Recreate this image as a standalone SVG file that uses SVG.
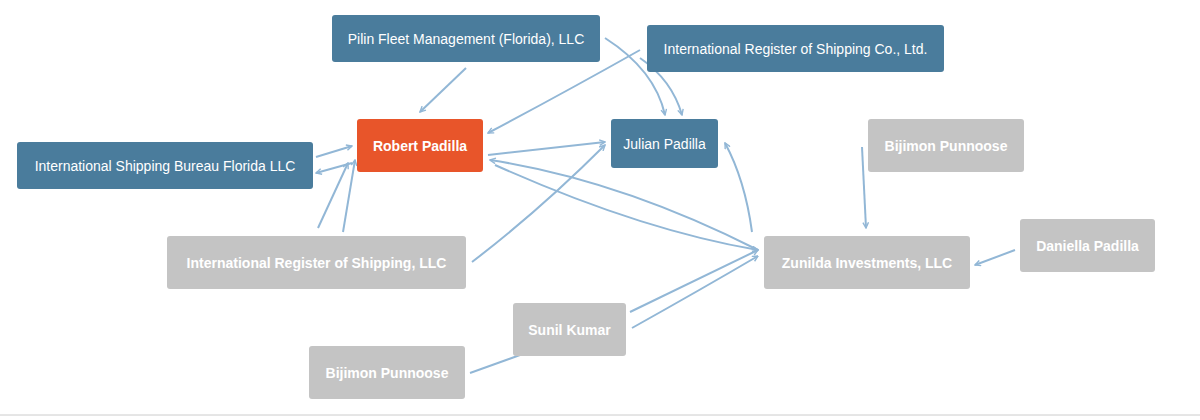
<svg xmlns="http://www.w3.org/2000/svg" width="1200" height="420" viewBox="0 0 1200 420">
<style>
.n rect{rx:3}
.b rect{fill:#4a7c9c}
.g rect{fill:#c4c4c4}
.o rect{fill:#e8552a}
text{font-family:"Liberation Sans",Arial,sans-serif;font-size:14px;fill:#fff;text-anchor:middle;dominant-baseline:central}
.g text,.o text{font-weight:bold}
#edges path{fill:none;stroke:#92b7d6;stroke-width:2;marker-end:url(#a)}
</style>
<defs><marker id="a" viewBox="0 0 10 10" refX="9" refY="5" markerWidth="7" markerHeight="7" orient="auto" markerUnits="userSpaceOnUse"><path d="M1 1L9 5L1 9" fill="none" stroke="#92b7d6" stroke-width="2"/></marker></defs>
<rect width="1200" height="420" fill="#fff"/>
<line x1="0" y1="415" x2="1200" y2="415" stroke="#ccc"/>
<g id="edges">
<path d="M466 68L420 112"/>
<path d="M605 38Q655 70 665 115"/>
<path d="M640 50Q560 95 488 133"/>
<path d="M640 58Q672 80 682 115"/>
<path d="M316 157L352 146"/>
<path d="M352 163L316 173"/>
<path d="M318 228L348 163"/>
<path d="M343 232L355 160"/>
<path d="M472 262Q540 210 605 145"/>
<path d="M488 155L605 142"/>
<path d="M758 250Q620 180 490 160"/>
<path d="M495 165Q640 230 758 250"/>
<path d="M752 232Q745 180 725 143"/>
<path d="M862 147L866 228"/>
<path d="M1015 250L975 265"/>
<path d="M630 312L758 250"/>
<path d="M632 328Q700 290 758 256"/>
<path d="M470 373L520 355" style="marker-end:none"/>
</g>
<g id="pilin" class="n b"><rect x="332" y="15" width="268" height="47"/><text x="466" y="38.5">Pilin Fleet Management (Florida), LLC</text></g>
<g id="irsco" class="n b"><rect x="647" y="25" width="297" height="47"/><text x="795.5" y="48.5">International Register of Shipping Co., Ltd.</text></g>
<g id="robert" class="n o"><rect x="357" y="119" width="126" height="53"/><text x="420" y="145.5">Robert Padilla</text></g>
<g id="julian" class="n b"><rect x="611" y="119" width="107" height="49"/><text x="664.5" y="143.5">Julian Padilla</text></g>
<g id="isb" class="n b"><rect x="17" y="142" width="296" height="47"/><text x="165" y="165.5">International Shipping Bureau Florida LLC</text></g>
<g id="bij1" class="n g"><rect x="868" y="119" width="156" height="53"/><text x="946" y="145.5">Bijimon Punnoose</text></g>
<g id="irsllc" class="n g"><rect x="167" y="236" width="299" height="53"/><text x="316.5" y="262.5">International Register of Shipping, LLC</text></g>
<g id="zun" class="n g"><rect x="764" y="236" width="206" height="53"/><text x="867" y="262.5">Zunilda Investments, LLC</text></g>
<g id="dan" class="n g"><rect x="1020" y="219" width="135" height="53"/><text x="1087.5" y="245.5">Daniella Padilla</text></g>
<g id="sunil" class="n g"><rect x="513" y="303" width="113" height="53"/><text x="569.5" y="329.5">Sunil Kumar</text></g>
<g id="bij2" class="n g"><rect x="309" y="346" width="156" height="53"/><text x="387" y="372.5">Bijimon Punnoose</text></g>
</svg>
